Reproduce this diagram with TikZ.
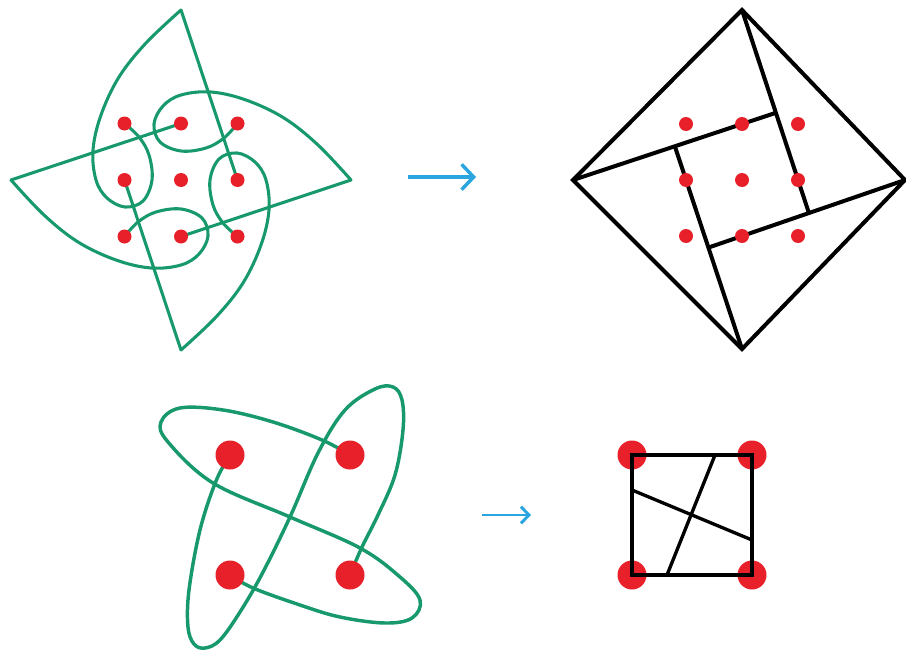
\documentclass[tikz,border=0pt]{standalone}
\usetikzlibrary{arrows.meta}
\definecolor{kgreen}{HTML}{17996C}
\definecolor{kred}{HTML}{E8202A}
\definecolor{kblue}{HTML}{2AA5E0}
\begin{document}
\begin{tikzpicture}[x=0.75pt,y=-0.75pt,
  gline/.style={draw=kgreen,line width=2.3pt,line join=round,line cap=round},
  gthick/.style={draw=kgreen,line width=2.6pt,line join=round,line cap=round},
  bline/.style={draw=black,line width=3pt,line join=miter},
  bthin/.style={draw=black,line width=2.5pt},
  sdot/.style={fill=kred},
  arr/.style={draw=kblue,line width=2.6pt,-{Straight Barb[length=9pt,width=19pt,line width=2.6pt]}},
  arrs/.style={draw=kblue,line width=2.2pt,-{Straight Barb[length=6pt,width=12.5pt,line width=2.2pt]}}]
\useasboundingbox (0,0) rectangle (906,653);

% ---------- top-left knot ----------
\begin{scope}[shift={(181,180)}]
  \foreach \a in {0,90,180,270}{
    \begin{scope}[rotate=\a]
      \draw[gline] (0,-170) -- (56.5,0);
      \draw[gline] plot[smooth,tension=0.6] coordinates {(0,-170) (-35,-137) (-62,-103) (-80,-65) (-88,-30) (-85,0) (-74,18) (-56,27) (-38,21) (-29,0) (-32,-25) (-42,-43) (-56.5,-56.5)};
    \end{scope}
  }
  \foreach \i in {-1,0,1}{
    \foreach \j in {-1,0,1}{
      \fill[sdot] (56.5*\i,56.5*\j) circle[radius=7];
    }
  }
\end{scope}

% ---------- top arrow ----------
\coordinate (a1) at (408,177);
\coordinate (a2) at (476,177);
\draw[arr] (a1) -- (a2);

% ---------- top-right diamond ----------
\coordinate (T) at (742,10);
\coordinate (L) at (573,180);
\coordinate (R) at (905,180);
\coordinate (B) at (742,349);
\coordinate (tl) at (686,124); \coordinate (tm) at (742,124); \coordinate (tr) at (798,124);
\coordinate (ml) at (686,180); \coordinate (mm) at (742,180); \coordinate (mr) at (798,180);
\coordinate (bl) at (686,236); \coordinate (bm) at (742,236); \coordinate (br) at (798,236);
\coordinate (c1) at (intersection of L--tm and T--mr);
\coordinate (c2) at (intersection of T--mr and R--bm);
\coordinate (c3) at (intersection of R--bm and B--ml);
\coordinate (c4) at (intersection of B--ml and L--tm);
\draw[bline] (T) -- (R) -- (B) -- (L) -- cycle;
\draw[bline] (L) -- (c1);
\draw[bline] (T) -- (c2);
\draw[bline] (R) -- (c3);
\draw[bline] (B) -- (c4);
\foreach \p in {tl,tm,tr,ml,mm,mr,bl,bm,br}{
  \fill[sdot] (\p) circle[radius=7];
}

% ---------- bottom-left knot ----------
\coordinate (d1) at (230,455);
\coordinate (d2) at (350,455);
\coordinate (d3) at (230,575);
\coordinate (d4) at (350,575);
\draw[gthick] (d2) plot[smooth,tension=0.6] coordinates {(350,455) (322,440) (273,422) (223,410) (180,408) (161,422) (168,442) (213,483) (290,517) (360,548) (400,577) (420,600) (412,618) (385,623) (340,617) (300,605) (253,588) (230,575)};
\draw[gthick] (d1) plot[smooth,tension=0.6] coordinates {(230,455) (216,481) (200,530) (189,590) (188,627) (194,644) (205,648) (220,640) (240,612) (262,574) (290,517) (318,453) (345,410) (375,389) (393,387) (402,400) (403,430) (395,475) (378,515) (362,547) (350,575)};
\foreach \p in {d1,d2,d3,d4}{
  \fill[sdot] (\p) circle[radius=14.5];
}

% ---------- bottom arrow ----------
\coordinate (b1) at (482,515);
\coordinate (b2) at (531,515);
\draw[arrs] (b1) -- (b2);

% ---------- bottom-right square ----------
\coordinate (s1) at (632,455);
\coordinate (s2) at (752,455);
\coordinate (s3) at (752,575);
\coordinate (s4) at (632,575);
\coordinate (e1) at (632,490);
\coordinate (e2) at (752,540);
\coordinate (e3) at (715,455);
\coordinate (e4) at (667,575);
\foreach \p in {s1,s2,s3,s4}{
  \fill[sdot] (\p) circle[radius=14.5];
}
\draw[bthin] (s1) -- (s2) -- (s3) -- (s4) -- cycle;
\draw[bthin] (e1) -- (e2);
\draw[bthin] (e3) -- (e4);
\end{tikzpicture}
\end{document}
